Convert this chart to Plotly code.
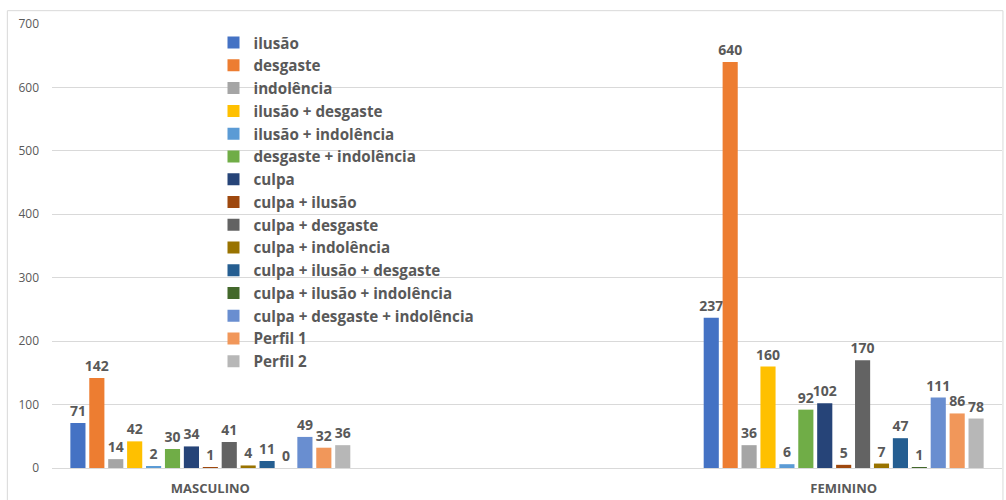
import plotly.graph_objects as go

# Categorias e séries
categorias = ['MASCULINO', 'FEMININO']

series = [
    'ilusão', 'desgaste', 'indolência', 'ilusão + desgaste', 'ilusão + indolência',
    'desgaste + indolência', 'culpa', 'culpa + ilusão', 'culpa + desgaste',
    'culpa + indolência', 'culpa + ilusão + desgaste', 'culpa + ilusão + indolência',
    'culpa + desgaste + indolência', 'Perfil 1', 'Perfil 2',
]

masculino = [71, 142, 14, 42, 2, 30, 34, 1, 41, 4, 11, 0, 49, 32, 36]
feminino = [237, 640, 36, 160, 6, 92, 102, 5, 170, 7, 47, 1, 111, 86, 78]

cores = [
    '#4472C4', '#ED7D31', '#A5A5A5', '#FFC000', '#5B9BD5',
    '#70AD47', '#264478', '#9E480E', '#636363', '#997300',
    '#255E91', '#43682B', '#698ED0', '#F1975A', '#B7B7B7',
]

y_ticks = [0, 100, 200, 300, 400, 500, 600, 700]

CINZA = '#595959'
FONTE = 'Open Sans'

fig = go.Figure()

for i, nome in enumerate(series):
    fig.add_trace(go.Bar(
        x=categorias,
        y=[masculino[i], feminino[i]],
        name=nome,
        marker=dict(color=cores[i], line=dict(width=0)),
        text=[masculino[i], feminino[i]],
        textposition='outside',
        constraintext='none',
        cliponaxis=False,
        textfont=dict(family=FONTE, size=14, color=CINZA, weight='bold'),
        legendgroup=nome,
    ))

fig.update_layout(
    width=1006,
    height=500,
    margin=dict(l=52, r=4, t=24, b=32),
    barmode='group',
    bargap=0.552,
    bargroupgap=0.2,
    paper_bgcolor='white',
    plot_bgcolor='white',
    font=dict(family=FONTE, size=12, color=CINZA),
    showlegend=True,
    legend=dict(
        x=0.170,
        y=0.995,
        xanchor='left',
        yanchor='top',
        bgcolor='rgba(0,0,0,0)',
        font=dict(family=FONTE, size=15.2, color=CINZA, weight='bold'),
        tracegroupgap=0,
        itemwidth=30,
    ),
    xaxis=dict(
        type='category',
        range=[-0.25, 1.25],
        showgrid=False,
        showline=False,
        ticks='',
        ticklabelstandoff=11,
        tickfont=dict(family=FONTE, size=13, color=CINZA, weight='bold'),
    ),
    yaxis=dict(
        range=[0, 700],
        tickvals=y_ticks,
        showgrid=True,
        gridcolor='#D9D9D9',
        gridwidth=1,
        zeroline=True,
        zerolinecolor='#D9D9D9',
        zerolinewidth=1,
        showline=False,
        ticks='',
        ticklabelstandoff=12,
        tickfont=dict(family=FONTE, size=12, color=CINZA),
    ),
)

# Borda da área do gráfico
fig.add_shape(
    type='rect', xref='paper', yref='paper',
    x0=-0.047, x1=1.001, y0=-0.08, y1=1.03,
    line=dict(color='#D9D9D9', width=1),
    layer='below',
)

fig.write_html(
    "out.html",
    config={'displayModeBar': False},
    post_script="document.body.style.margin='0';",
)
